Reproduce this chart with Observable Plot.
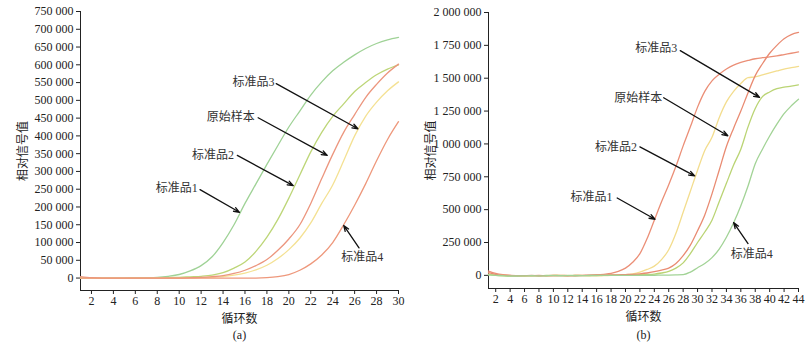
<!DOCTYPE html>
<html>
<head>
<meta charset="utf-8">
<script src="https://cdn.jsdelivr.net/npm/d3@7"></script>
<script src="https://cdn.jsdelivr.net/npm/@observablehq/plot@0.6"></script>
<style>
  html, body { margin: 0; padding: 0; background: #fff; }
  #wrap { display: flex; width: 812px; height: 353px; }
</style>
</head>
<body>
<div id="wrap"></div>
<script>
// ---------- Panel (a) data ----------
const cyclesA = [1,2,3,4,5,6,7,8,9,10,11,12,13,14,15,16,17,18,19,20,21,22,23,24,25,26,27,28,29,30];
const seriesNames = ["标准品1", "标准品2", "标准品3", "原始样本", "标准品4"];
const a_std1 = [0,0,0,0,0,500,1000,2000,5000,10000,20000,35000,60000,100000,150000,210000,265000,320000,373000,425000,470000,515000,552000,583000,607000,628000,646000,660000,670000,677000];
const a_std2 = [0,0,0,0,0,500,500,1000,1500,2000,3500,5000,8000,15000,28000,45000,75000,115000,165000,225000,290000,355000,410000,455000,490000,525000,550000,572000,588000,600000];
const a_std3 = [0,0,0,0,0,0,0,0,0,0,0,1000,2000,4000,8000,14000,23000,36000,55000,80000,112000,155000,210000,262000,330000,400000,455000,495000,527000,552000];
const a_orig = [4000,1000,0,0,0,0,0,0,0,0,1000,2000,4000,7000,13000,22000,35000,52000,78000,110000,150000,210000,280000,348000,410000,460000,508000,545000,577000,602000];
const a_std4 = [0,0,0,0,0,0,0,0,0,0,0,0,0,0,0,0,0,1000,4000,10000,22000,40000,65000,100000,150000,205000,265000,330000,390000,440000];
const xTicksA = [2,4,6,8,10,12,14,16,18,20,22,24,26,28,30];
const yTicksA = [0,50000,100000,150000,200000,250000,300000,350000,400000,450000,500000,550000,600000,650000,700000,750000];
const colorsA = ["#9fd296", "#bdd678", "#f4e193", "#ec967e", "#ee987c"];
const annLabelsA = ["标准品3", "原始样本", "标准品2", "标准品1", "标准品4"];
const annTextXA = [18.7, 16.9, 15.0, 11.7, 26.7];
const annTextYA = [552000, 454000, 347000, 252000, 58000];
const annAnchorA = ["end", "end", "end", "end", "middle"];
const annFromXA = [18.85, 17.2, 15.3, 11.9, 26.4];
const annFromYA = [547000, 451000, 345000, 249000, 85000];
const annToXA = [26.3, 23.5, 20.4, 15.5, 25.0];
const annToYA = [420000, 345000, 260000, 185000, 148000];

// ---------- Panel (b) data ----------
const cyclesB = [1,2,3,4,5,6,7,8,9,10,11,12,13,14,15,16,17,18,19,20,21,22,23,24,25,26,27,28,29,30,31,32,33,34,35,36,37,38,39,40,41,42,43,44];
const b_std1 = [33000,15000,5000,0,-2000,-3000,-2000,-1000,-3000,-2000,0,-2000,-3000,-2000,0,3000,8000,15000,30000,55000,100000,165000,280000,420000,560000,690000,830000,985000,1130000,1280000,1400000,1480000,1530000,1570000,1600000,1620000,1635000,1648000,1656000,1662000,1670000,1680000,1690000,1700000];
const b_std2 = [10000,3000,0,-2000,-3000,-4000,-3000,-2000,-2000,-1000,0,-2000,-1000,0,-3000,-4000,-2000,0,2000,5000,12000,25000,45000,70000,120000,195000,320000,480000,640000,800000,950000,1050000,1200000,1320000,1400000,1460000,1505000,1510000,1525000,1540000,1555000,1570000,1580000,1590000];
const b_orig = [20000,8000,2000,-1000,-3000,-2000,-1000,-3000,-2000,-1000,-2000,-3000,-1000,0,2000,3000,2000,3000,4000,6000,8000,12000,18000,28000,40000,55000,90000,150000,230000,340000,460000,620000,800000,980000,1120000,1250000,1390000,1520000,1610000,1690000,1750000,1800000,1832000,1848000];
const b_std3 = [5000,0,-3000,-5000,-4000,-3000,-2000,-3000,-1000,0,-2000,-1000,0,-2000,-1000,0,0,1000,2000,3000,4000,5000,7000,10000,18000,30000,55000,95000,165000,250000,330000,420000,560000,700000,840000,960000,1130000,1270000,1360000,1395000,1420000,1432000,1440000,1450000];
const b_std4 = [3000,0,-2000,-5000,-5000,-4000,-3000,-4000,-3000,-2000,-3000,-2000,-3000,-2000,-1000,-1000,0,0,0,0,0,0,1000,1000,2000,2000,3000,5000,25000,58000,90000,135000,200000,290000,400000,530000,680000,850000,960000,1060000,1150000,1230000,1290000,1340000];
const xTicksB = [2,4,6,8,10,12,14,16,18,20,22,24,26,28,30,32,34,36,38,40,42,44];
const yTicksB = [0,250000,500000,750000,1000000,1250000,1500000,1750000,2000000];
const colorsB = ["#eb8f77", "#f3dd8e", "#bad474", "#e98b72", "#a2d396"];
const annLabelsB = ["标准品3", "原始样本", "标准品2", "标准品1", "标准品4"];
const annTextXB = [27.2, 25.1, 21.6, 18.2, 37.5];
const annTextYB = [1725000, 1351000, 978000, 597000, 162000];
const annAnchorB = ["end", "end", "end", "end", "middle"];
const annFromXB = [27.6, 25.3, 22.0, 18.85, 37.0];
const annFromYB = [1710000, 1351000, 978000, 589000, 242000];
const annToXB = [38.6, 34.2, 29.6, 24.1, 35.0];
const annToYB = [1354000, 1062000, 757000, 427000, 401000];

// ---------- build ----------
const FONT = '"Liberation Serif", "Times New Roman", "Noto Sans CJK SC", serif';
const fmt = d3.formatLocale({thousands: " ", grouping: [3], decimal: ".", currency: ["", ""]}).format(",");

function rows(cycles, seriesArrays) {
  const out = [];
  seriesArrays.forEach(([name, vals], si) => {
    vals.forEach((v, i) => out.push({series: name, order: si, cycle: cycles[i], value: v}));
  });
  return out;
}
function annRows(labels, tx, ty, anchor, fx, fy, ox, oy) {
  return labels.map((l, i) => ({label: l, tx: tx[i], ty: ty[i], anchor: anchor[i], fx: fx[i], fy: fy[i], ox: ox[i], oy: oy[i]}));
}

function panel(opts) {
  const ann = opts.ann;
  return Plot.plot({
    width: 406, height: 353,
    marginLeft: opts.ml, marginRight: opts.mr, marginTop: opts.mt, marginBottom: opts.mb,
    style: {fontFamily: FONT, fontSize: "12px", color: "#222", background: "transparent", overflow: "visible"},
    x: {domain: opts.xdom, ticks: opts.xticks, tickSize: 4, tickPadding: 2, line: true,
        label: "循环数", labelAnchor: "center", labelOffset: 32, labelArrow: false},
    y: {domain: opts.ydom, ticks: opts.yticks, tickFormat: fmt, tickSize: 4, tickPadding: 3, line: true,
        label: "相对信号值", labelAnchor: "center", labelOffset: opts.ylo, labelArrow: false},
    color: {domain: opts.names, range: opts.colors},
    marks: [
      Plot.line(opts.data, {x: "cycle", y: "value", z: "series", stroke: "series", strokeWidth: 1.3, curve: "monotone-x"}),
      Plot.arrow(ann, {x1: "fx", y1: "fy", x2: "ox", y2: "oy", stroke: "#111", strokeWidth: 1.3, headLength: 7, headAngle: 40}),
      Plot.text(ann.filter(d => d.anchor === "end"), {x: "tx", y: "ty", text: "label", textAnchor: "end", fill: "#333", fontSize: 12}),
      Plot.text(ann.filter(d => d.anchor === "middle"), {x: "tx", y: "ty", text: "label", textAnchor: "middle", fill: "#333", fontSize: 12}),
      Plot.text([opts.tag], {frameAnchor: "bottom", dy: opts.tagDy, text: d => d, fill: "#222", fontSize: 12})
    ]
  });
}

const dataA = rows(cyclesA, [["标准品1", a_std1], ["标准品2", a_std2], ["标准品3", a_std3], ["原始样本", a_orig], ["标准品4", a_std4]]);
const dataB = rows(cyclesB, [["标准品1", b_std1], ["标准品2", b_std2], ["标准品3", b_std3], ["原始样本", b_orig], ["标准品4", b_std4]]);

const plotA = panel({
  ml: 80, mr: 8, mt: 11, mb: 63, xdom: [1, 30], ydom: [-35000, 750000],
  xticks: xTicksA, yticks: yTicksA, ylo: 62, names: seriesNames, colors: colorsA,
  data: dataA, ann: annRows(annLabelsA, annTextXA, annTextYA, annAnchorA, annFromXA, annFromYA, annToXA, annToYA),
  tag: "(a)", tagDy: 48
});
const plotB = panel({
  ml: 82, mr: 14, mt: 12, mb: 65, xdom: [1, 44], ydom: [-100000, 2000000],
  xticks: xTicksB, yticks: yTicksB, ylo: 62, names: seriesNames, colors: colorsB,
  data: dataB, ann: annRows(annLabelsB, annTextXB, annTextYB, annAnchorB, annFromXB, annFromYB, annToXB, annToYB),
  tag: "(b)", tagDy: 50
});
document.getElementById("wrap").append(plotA, plotB);
</script>
</body>
</html>
